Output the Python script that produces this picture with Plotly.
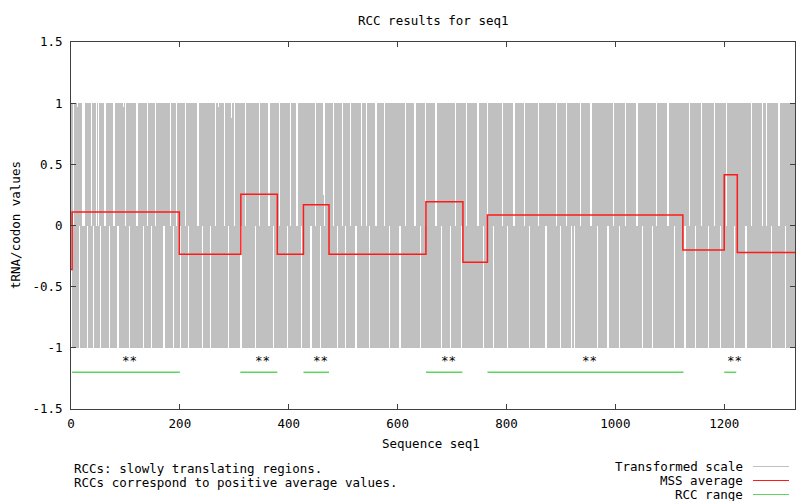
import plotly.graph_objects as go

# ---------------- data ----------------
# transformed scale per codon: '+'=1, '-'=-1, 'p'=0.97, 'P'=0.88, 'n'=-0.97, 'N'=-0.88, 'q'=0.25, 'r'=-0.2
codon_pattern = (
    "+-+---+-++-p-+++-+-+-----+-+-++-+-+---+-+++-+-n-+--+-+++-+-+----+-+-+++"
    "-+-+-+---+-+-++++-+-+--+-p-+---+-+-+++-+-+-+-+-+----+-++-+-+-+++-+-+--+"
    "-+-+++-+-+-+---+-+-+--+-+-++++-+-+-+-+---+-+-++-+-r--+-+-+++-+-+-+---+-"
    "+++-+-+-+-+--+-+-+----+-+-+++-+-+-+--+-+-+++-+-+-+---+-+-p-+-++-+-+---+"
    "-+-+++-+-P-+-+---+-+-++-+-+++++-+-+---+-+-+-+-+--+-+-+++-+-+---+-+-+-+-"
    "++-+-+-----+-+-+++-+-+-+-+---+-+-+-++-+-+++-+-+--+-+-+-+-+----+-+-+++-+"
    "-+-+-+--+-+-++++-+-+-+---+-+-+-+++-+-q---+-+-++-+-+-+-+---+-+-+++-+-+-+"
    "--+-+-++-+-+-+---+-+-+-+++++-+-+-+---+-+-+-+--+-+-+++-+-+-+-+----+-+-+-"
    "++-+-+---+-+-+-+++-+-+-+--+-+-+-+-++++-+-+-+---+-+-+-++-+-+-+-----+-+-+"
    "-+++-+-+-+---+-+-+-++-+-+-+-+----+-+-+-+++-+-+-+--+-+-+-+++-+-+-+---+-"
    "+-+-+-+++-+-+-+---+-+-+-+-++-+-+-+-+----+-+-+-++++-+-+---+-+-+-+-+++-+-"
    "+--+-+-+-+---+-+-+-+++-+-+-+-+-----+-+-+-+-++-+-+-+---+-+-+-+++-+-+-+-"
    "+-+-+-+---+-+-+-+-+-++++-+-+-+--+-+-+-+---+-+-+-+++-+-+-+-+---+-+-+-++"
    "-+-+++-+-+-+-+---+-+-+-+-++-+-+-+----+-+-+-+-+++-+-+-+--+-+-+-+-++++-+"
    "-+-+---+-+-+-+-+++-+-+-+-+---+-+-+-+-++-+-+-+-+-----+-+-+-+++-+-+-+-+-"
    "+-+-+-+++-+-+---+-+-+-+-++-+-+-+-+----+-+-+-+-+++-+-+-+-+--+-+-+-++++-"
    "+-+-+---+-+-+-+-+++-+-+-+-+---+-+-+-+-+-++-+-+-+-+----+-+-+-+-+++-+-+-"
    "+-+---+-+-+-+-+-+++-+-+-+-+--+-+-+-+-+++++-+-+-+---+-+-+-+-+-++-+-+-+-"
    "-+-+-+---+-+-+-+++-+-+-+-+-+----+-+-+-+-+++-+-+-+-+--+-+-+-+-+-+++-+-+"
    "-+-+-+---+-+-+-+-++++-+-+-+-+---+-+-+-+-+-+++-+-+-+-+-+---+-+-+-+-++-+"
)
symbol_values = {"+": 1.0, "-": -1.0, "p": 0.97, "P": 0.88, "n": -0.97,
                 "N": -0.88, "q": 0.25, "r": -0.2}

# MSS average (step function)
mss_starts = [0, 2, 199, 312, 379, 427, 474, 652, 720, 765, 1124, 1200, 1224]
mss_values = [-0.36, 0.11, -0.235, 0.255, -0.235, 0.17, -0.235, 0.195, -0.3,
              0.085, -0.2, 0.415, -0.22]
seq_length = 1330

# RCC ranges
rcc_starts = [2, 311, 427, 652, 765, 1200]
rcc_ends = [200, 379, 474, 719, 1125, 1222]
rcc_level = -1.2
rcc_label = "**"
rcc_label_level = -1.1

x_ticks = [0, 200, 400, 600, 800, 1000, 1200]
y_ticks = [-1.5, -1, -0.5, 0, 0.5, 1, 1.5]
y_tick_text = ["-1.5", "-1", "-0.5", "0", "0.5", "1", "1.5"]

# ---------------- figure ----------------
FONT = "DejaVu Sans Mono"
FS = 12.5
W, H = 796, 501
ML, MR, MT, MB = 71, 1, 42, 92
PW, PH = W - ML - MR, H - MT - MB
GRAY, RED, GREEN = "#c0c0c0", "#ff1a1a", "#5fd35f"


def px(xp):
    return (xp - ML) / PW


def py(yp):
    return (H - MB - yp) / PH


codon_x = [i + 1 for i in range(len(codon_pattern))]
codon_y = [symbol_values[c] for c in codon_pattern]

fig = go.Figure()
fig.add_trace(go.Bar(x=codon_x, y=codon_y, width=0.3,
                     marker=dict(color=GRAY, line=dict(width=0)),
                     hoverinfo="skip", showlegend=False))

step_x = mss_starts + [seq_length]
step_y = mss_values + [mss_values[-1]]
fig.add_trace(go.Scatter(x=step_x, y=step_y, mode="lines",
                         line=dict(color=RED, width=1.5, shape="hv"),
                         hoverinfo="skip", showlegend=False))

gx, gy = [], []
for s, e in zip(rcc_starts, rcc_ends):
    gx += [s, e, None]
    gy += [rcc_level, rcc_level, None]
fig.add_trace(go.Scatter(x=gx, y=gy, mode="lines",
                         line=dict(color=GREEN, width=1.5),
                         hoverinfo="skip", showlegend=False))

ann = []
for s, e in zip(rcc_starts, rcc_ends):
    ann.append(dict(x=(s + e) / 2, y=rcc_label_level, xref="x", yref="y",
                    text=rcc_label, showarrow=False, xshift=4,
                    font=dict(family=FONT, size=FS, color="black")))


def label(text, xp, yp, xanchor="center", angle=0):
    ann.append(dict(x=px(xp), y=py(yp), xref="paper", yref="paper", text=text,
                    showarrow=False, xanchor=xanchor, yanchor="middle",
                    textangle=angle, borderpad=0,
                    font=dict(family=FONT, size=FS, color="black")))


label("RCC results for seq1", 433, 20)
label("Sequence seq1", 431, 443)
label("tRNA/codon values", 15, 225, angle=-90)
label("RCCs: slowly translating regions.", 73, 468, xanchor="left")
label("RCCs correspond to positive average values.", 73, 482, xanchor="left")

legend_items = [("Transformed scale", GRAY, 466.5),
                ("MSS average", RED, 480.5),
                ("RCC range", GREEN, 494.5)]
shapes = []
for txt, col, yp in legend_items:
    label(txt, 744, yp, xanchor="right")
    shapes.append(dict(type="line", xref="paper", yref="paper",
                       x0=px(753), x1=px(789), y0=py(yp), y1=py(yp),
                       line=dict(color=col, width=1.2)))

axis_common = dict(showline=True, linecolor="#404040", linewidth=1, mirror="ticks",
                   ticks="inside", ticklen=5, tickcolor="#404040", tickwidth=1,
                   showgrid=False, zeroline=False,
                   tickfont=dict(family=FONT, size=FS, color="black"))

fig.update_layout(
    width=W, height=H, autosize=False,
    margin=dict(l=ML, r=MR, t=MT, b=MB, pad=0),
    paper_bgcolor="white", plot_bgcolor="white",
    xaxis=dict(range=[0, seq_length], tickvals=x_ticks,
               ticktext=[str(v) for v in x_ticks], ticklabelstandoff=3,
               **axis_common),
    yaxis=dict(range=[-1.5, 1.5], tickvals=y_ticks, ticktext=y_tick_text,
               ticklabelstandoff=5, **axis_common),
    annotations=ann, shapes=shapes, showlegend=False, bargap=0,
)

fig.write_html("out.html")
